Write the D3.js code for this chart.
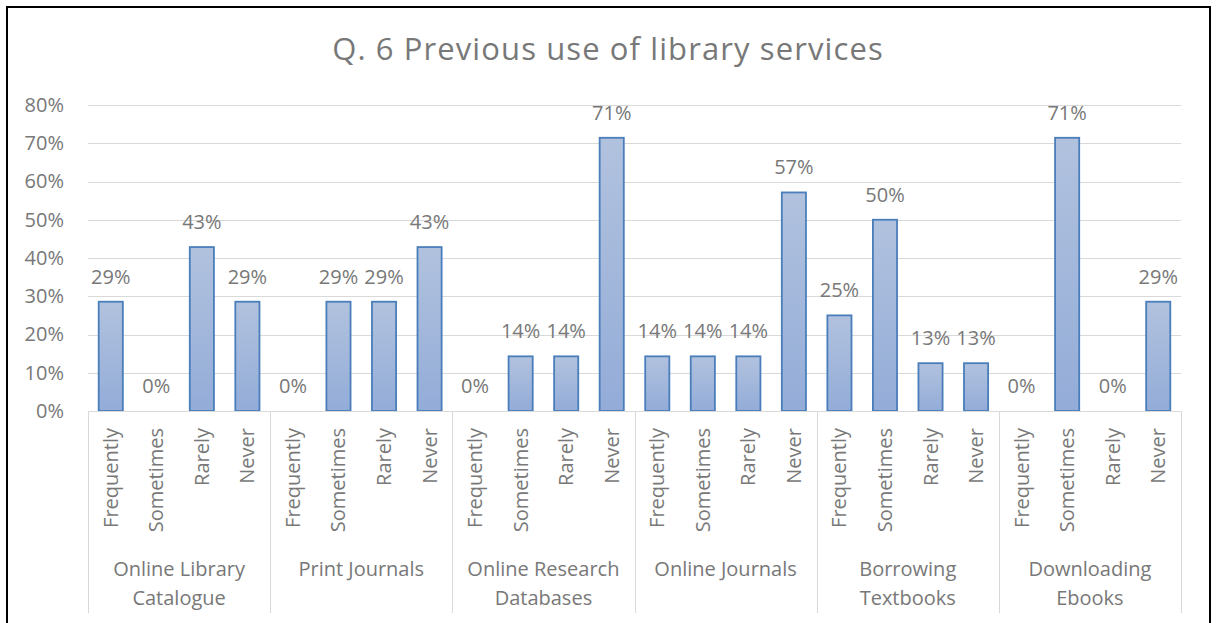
<!DOCTYPE html>
<html><head><meta charset="utf-8">
<script src="https://cdn.jsdelivr.net/npm/d3@7"></script>
<style>body{margin:0;background:#fff}svg{display:block}</style>
</head><body>
<svg id="c" width="1217" height="623"></svg>
<script>
const title = "Q. 6 Previous use of library services";
const groups = [["Online Library","Catalogue"],["Print Journals"],["Online Research","Databases"],["Online Journals"],["Borrowing","Textbooks"],["Downloading","Ebooks"]];
const levels = ["Frequently","Sometimes","Rarely","Never"];
const onlineCatalogue = [28.57, 0, 42.86, 28.57];
const printJournals = [0, 28.57, 28.57, 42.86];
const researchDatabases = [0, 14.29, 14.29, 71.43];
const onlineJournals = [14.29, 14.29, 14.29, 57.14];
const borrowingTextbooks = [25, 50, 12.5, 12.5];
const downloadingEbooks = [0, 71.43, 0, 28.57];
const yTicks = [0,10,20,30,40,50,60,70,80];

const series = [onlineCatalogue, printJournals, researchDatabases, onlineJournals, borrowingTextbooks, downloadingEbooks];
const data = [];
series.forEach((vals,gi)=>vals.forEach((v,li)=>data.push({g:gi,l:li,key:gi+"-"+li,v})));

const FONT = "Open Sans, sans-serif";
const TXT = "#787878";
const FS = 20;
const svg = d3.select("#c");
const defs = svg.append("defs");
const grad = defs.append("linearGradient").attr("id","bg").attr("x1",0).attr("y1",0).attr("x2",0).attr("y2",1);
grad.append("stop").attr("offset","0%").attr("stop-color","#b1c2de");
grad.append("stop").attr("offset","100%").attr("stop-color","#93acd8");

const L=88,R=1181,T=105,B=411;
const x = d3.scaleBand().domain(data.map(d=>d.key)).range([L,R]).paddingInner(0.47).paddingOuter(0.235);
const slot = d3.scaleBand().domain(data.map(d=>d.key)).range([L,R]);
const gx = d3.scaleBand().domain(d3.range(groups.length)).range([L,R]);
const y = d3.scaleLinear().domain([0,80]).range([B,T]);

// border
svg.append("rect").attr("x",7).attr("y",7).attr("width",1203).attr("height",640).attr("fill","none").attr("stroke","#000").attr("stroke-width",2);

// title
svg.append("text").attr("x",608).attr("y",60).attr("text-anchor","middle").attr("font-family",FONT).attr("font-size",31).attr("letter-spacing","1.1px").attr("fill",TXT).text(title);

// grid
svg.append("g").selectAll("line").data(yTicks.slice(1)).join("line")
  .attr("x1",L).attr("x2",R).attr("y1",d=>Math.round(y(d))+0.5).attr("y2",d=>Math.round(y(d))+0.5)
  .attr("stroke","#d9d9d9").attr("stroke-width",1);

// y axis labels
const yAxis = d3.axisLeft(y).tickValues(yTicks).tickFormat(d=>d+"%").tickSize(0).tickPadding(24);
const ya = svg.append("g").attr("transform",`translate(${L},0)`).call(yAxis);
ya.select(".domain").remove();
ya.selectAll("text").attr("font-family",FONT).attr("font-size",FS).attr("fill",TXT);

// bars
svg.append("g").selectAll("rect").data(data).join("rect")
  .attr("x",d=>x(d.key)).attr("width",x.bandwidth())
  .attr("y",d=>y(d.v)).attr("height",d=>B-y(d.v))
  .attr("fill","url(#bg)").attr("stroke","#4a7ebb").attr("stroke-width",1.8);

// value labels
svg.append("g").selectAll("text").data(data).join("text")
  .attr("x",d=>slot(d.key)+slot.bandwidth()/2).attr("y",d=>y(d.v)-18)
  .attr("text-anchor","middle").attr("font-family",FONT).attr("font-size",FS).attr("fill",TXT)
  .text(d=>Math.round(d.v)+"%");

// axis baseline and separators
svg.append("line").attr("x1",L).attr("x2",R).attr("y1",B+0.5).attr("y2",B+0.5).attr("stroke","#d9d9d9");
const seps = d3.range(groups.length+1).map(i=> i<groups.length ? gx(i) : R);
svg.append("g").selectAll("line").data(seps).join("line")
  .attr("x1",d=>Math.round(d)+0.5).attr("x2",d=>Math.round(d)+0.5).attr("y1",B).attr("y2",613)
  .attr("stroke","#d9d9d9");

// sub labels
svg.append("g").selectAll("text").data(data).join("text")
  .attr("transform",d=>`translate(${slot(d.key)+slot.bandwidth()/2},428) rotate(-90)`)
  .attr("dy","0.35em").attr("text-anchor","end").attr("font-family",FONT).attr("font-size",FS).attr("fill",TXT)
  .text(d=>levels[d.l]);

// group labels
const gl = svg.append("g").selectAll("text").data(groups).join("text")
  .attr("x",(d,i)=>gx(i)+gx.bandwidth()/2).attr("y",576)
  .attr("text-anchor","middle").attr("font-family",FONT).attr("font-size",FS).attr("fill",TXT);
gl.selectAll("tspan").data(d=>d).join("tspan")
  .attr("x",function(){return this.parentNode.getAttribute("x");}).attr("dy",(d,i)=>i?29:0).text(d=>d);
</script>
</body></html>
